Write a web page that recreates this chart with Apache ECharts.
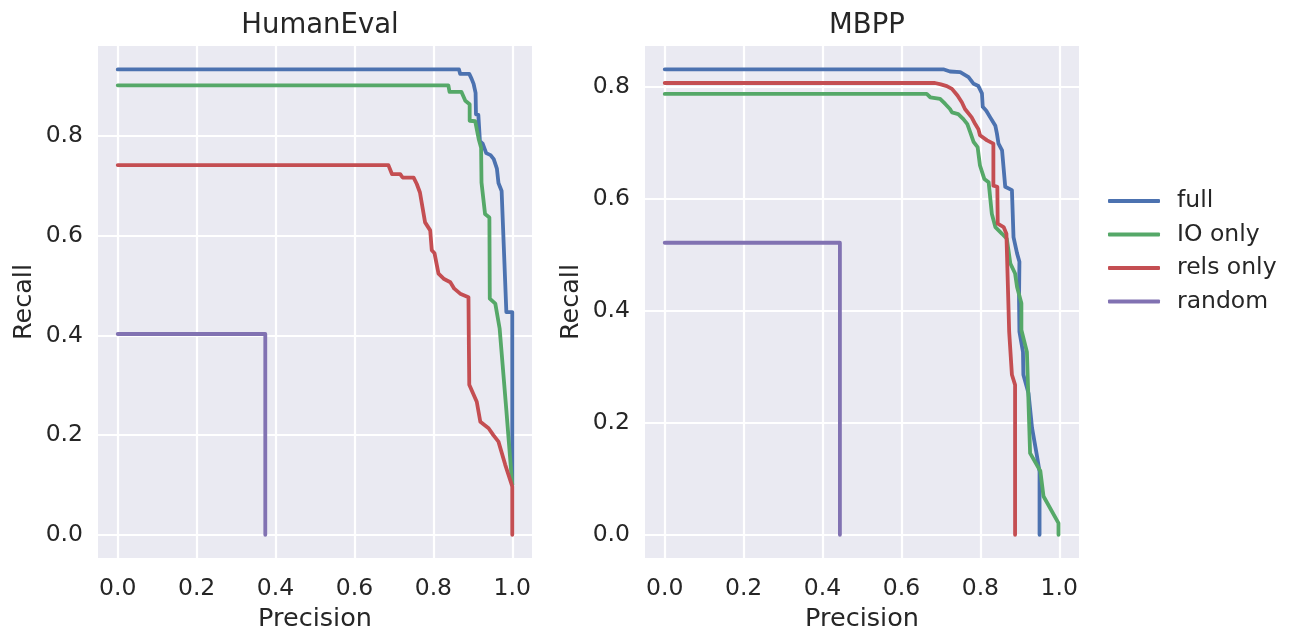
<!DOCTYPE html>
<html>
<head>
<meta charset="utf-8">
<script src="https://cdn.jsdelivr.net/npm/echarts@6/dist/echarts.min.js"></script>
<style>
html,body{margin:0;padding:0;background:#fff;}
#chart{width:1289px;height:637px;}
</style>
</head>
<body>
<div id="chart"></div>
<script>
// ---- data ----
const panelTitles = ['HumanEval', 'MBPP'];
const seriesNames = ['full', 'IO only', 'rels only', 'random'];
const xTicks = [0, 0.2, 0.4, 0.6, 0.8, 1.0];
const yTicks = [0, 0.2, 0.4, 0.6, 0.8];

// HumanEval [precision, recall]
const heFull = [[0,0.934],[0.865,0.934],[0.868,0.925],[0.891,0.925],[0.897,0.915],[0.902,0.905],[0.907,0.887],[0.908,0.844],[0.914,0.843],[0.918,0.790],[0.925,0.785],[0.934,0.766],[0.945,0.762],[0.953,0.754],[0.961,0.735],[0.965,0.706],[0.973,0.690],[0.985,0.447],[1.0,0.447],[1.0,0.10]];
const heIO = [[0,0.902],[0.838,0.902],[0.841,0.889],[0.871,0.889],[0.881,0.871],[0.892,0.864],[0.892,0.831],[0.906,0.830],[0.915,0.794],[0.921,0.777],[0.922,0.707],[0.931,0.644],[0.942,0.637],[0.943,0.474],[0.957,0.464],[0.968,0.414],[0.985,0.250],[1.0,0.10]];
const heRels = [[0,0.742],[0.686,0.742],[0.695,0.724],[0.716,0.724],[0.722,0.717],[0.750,0.717],[0.758,0.704],[0.766,0.687],[0.779,0.627],[0.792,0.611],[0.796,0.571],[0.803,0.565],[0.813,0.524],[0.826,0.514],[0.843,0.507],[0.853,0.494],[0.868,0.484],[0.889,0.477],[0.890,0.380],[0.891,0.301],[0.910,0.267],[0.919,0.227],[0.940,0.214],[0.952,0.200],[0.965,0.187],[0.982,0.141],[1.0,0.097],[1.0,0]];
const heRandom = [[0,0.403],[0.374,0.403],[0.374,0]];

// MBPP [precision, recall]
const mbFull = [[0,0.832],[0.706,0.832],[0.723,0.828],[0.749,0.827],[0.770,0.818],[0.783,0.806],[0.795,0.802],[0.804,0.789],[0.806,0.765],[0.815,0.758],[0.825,0.746],[0.838,0.731],[0.842,0.717],[0.846,0.699],[0.855,0.687],[0.863,0.622],[0.880,0.616],[0.884,0.532],[0.893,0.503],[0.899,0.488],[0.898,0.420],[0.899,0.363],[0.908,0.327],[0.909,0.286],[0.922,0.253],[0.931,0.191],[0.943,0.143],[0.950,0.113],[0.950,0]];
const mbIO = [[0,0.788],[0.664,0.788],[0.673,0.782],[0.698,0.779],[0.711,0.770],[0.723,0.761],[0.728,0.755],[0.744,0.752],[0.757,0.743],[0.767,0.734],[0.774,0.720],[0.783,0.702],[0.793,0.693],[0.799,0.660],[0.810,0.636],[0.821,0.630],[0.829,0.574],[0.838,0.550],[0.855,0.538],[0.867,0.529],[0.876,0.485],[0.888,0.467],[0.893,0.443],[0.904,0.414],[0.904,0.366],[0.918,0.327],[0.926,0.146],[0.952,0.114],[0.960,0.069],[0.998,0.021],[0.998,0]];
const mbRels = [[0,0.8075],[0.685,0.8075],[0.700,0.805],[0.715,0.802],[0.728,0.797],[0.742,0.785],[0.753,0.773],[0.761,0.761],[0.778,0.746],[0.787,0.734],[0.795,0.725],[0.799,0.714],[0.817,0.705],[0.833,0.699],[0.833,0.624],[0.843,0.622],[0.844,0.556],[0.859,0.550],[0.866,0.538],[0.871,0.414],[0.873,0.363],[0.880,0.286],[0.888,0.268],[0.888,0]];
const mbRandom = [[0,0.522],[0.444,0.522],[0.444,0]];

const colors = ['#4C72B0', '#55A868', '#C44E52', '#8172B2'];
const panelData = [[heFull, heIO, heRels, heRandom], [mbFull, mbIO, mbRels, mbRandom]];
const yRanges = [[-0.0467, 0.981], [-0.0416, 0.8736]];

// ---- chart ----
const FONT = 'DejaVu Sans';
const TXT = '#262626';
const gridLeft = [98, 645];
const gridW = 434, gridTop = 46, gridH = 515;

const chart = echarts.init(document.getElementById('chart'), null, {renderer: 'canvas'});

const grids = gridLeft.map(l => ({left: l, top: gridTop, width: gridW, height: gridH, show: true, backgroundColor: '#EAEAF2', borderWidth: 0, containLabel: false}));

const xAxes = gridLeft.map((l, i) => ({
  type: 'value', gridIndex: i, min: -0.05, max: 1.05,
  axisLine: {show: false},
  axisTick: {show: false, customValues: xTicks},
  axisLabel: {customValues: xTicks, formatter: v => v.toFixed(1), fontSize: 23.5, color: TXT, fontFamily: FONT, margin: 19},
  splitLine: {show: true, lineStyle: {color: '#ffffff', width: 2.2}},
  name: 'Precision', nameLocation: 'middle', nameGap: 45,
  nameTextStyle: {fontSize: 25.5, color: TXT, fontFamily: FONT}
}));

const yAxes = gridLeft.map((l, i) => ({
  type: 'value', gridIndex: i, min: yRanges[i][0], max: yRanges[i][1],
  axisLine: {show: false},
  axisTick: {show: false, customValues: yTicks},
  axisLabel: {customValues: yTicks, formatter: v => v.toFixed(1), fontSize: 23.5, color: TXT, fontFamily: FONT, margin: 15},
  splitLine: {show: true, lineStyle: {color: '#ffffff', width: 2.2}},
  name: 'Recall', nameLocation: 'middle', nameGap: 61,
  nameTextStyle: {fontSize: 25.5, color: TXT, fontFamily: FONT}
}));

const series = [];
panelData.forEach((arrs, p) => {
  arrs.forEach((d, k) => {
    series.push({
      type: 'line', name: seriesNames[k], xAxisIndex: p, yAxisIndex: p,
      data: d, symbol: 'none', showSymbol: false, silent: true, clip: false,
      color: colors[k],
      lineStyle: {width: 3.8, color: colors[k], cap: 'round', join: 'round'}
    });
  });
});

const option = {
  animation: false,
  backgroundColor: '#ffffff',
  title: panelTitles.map((t, i) => ({
    text: t, left: gridLeft[i] + gridW / 2, top: 7, textAlign: 'center',
    textStyle: {fontSize: 27.5, fontWeight: 'normal', color: TXT, fontFamily: FONT}
  })),
  legend: {
    data: seriesNames.map(n => ({name: n, icon: 'roundRect'})),
    orient: 'vertical', left: 1108, top: 189, padding: 0,
    itemWidth: 52, itemHeight: 4, itemGap: 9.5,
    itemStyle: {borderWidth: 0},
    textStyle: {fontSize: 23.5, color: TXT, fontFamily: FONT, padding: [0, 0, 0, 12]}
  },
  grid: grids,
  xAxis: xAxes,
  yAxis: yAxes,
  series: series
};
chart.setOption(option);
</script>
</body>
</html>
